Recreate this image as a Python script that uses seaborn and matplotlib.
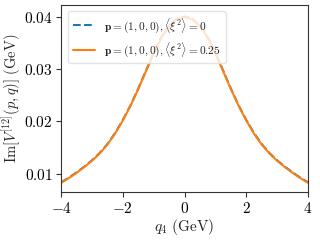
import numpy as np
import pandas as pd
import matplotlib
matplotlib.use("Agg")
import matplotlib.pyplot as plt
import seaborn as sns

# q4 grid (GeV) and read-off values (GeV)
q4 = [-4.0, -3.75, -3.5, -3.25, -3.0, -2.75, -2.5, -2.25, -2.0, -1.75, -1.5, -1.25, -1.0, -0.75, -0.5, -0.25,
      0.0, 0.25, 0.5, 0.75, 1.0, 1.25, 1.5, 1.75, 2.0, 2.25, 2.5, 2.75, 3.0, 3.25, 3.5, 3.75, 4.0]
# values for q4 = 0, 0.25, ..., 4 (curve is symmetric in q4)
half = [0.0400, 0.0396, 0.0383, 0.0361, 0.0331, 0.0297, 0.0263, 0.0231, 0.0203,
        0.0178, 0.0157, 0.0140, 0.0126, 0.0114, 0.0103, 0.0093, 0.0084]
im_v_xi0 = half[::-1] + half[1:]
half2 = [0.0399, 0.0395, 0.0382, 0.0360, 0.0330, 0.0296, 0.0262, 0.0230, 0.0202,
         0.0177, 0.0156, 0.0139, 0.0125, 0.0113, 0.0102, 0.0092, 0.0083]
im_v_xi025 = half2[::-1] + half2[1:]

labels = [r"$\mathbf{p}=(1,0,0), \langle\xi^2\rangle=0$",
          r"$\mathbf{p}=(1,0,0), \langle\xi^2\rangle=0.25$"]

df = pd.DataFrame({
    "q4": q4 * 2,
    "v": im_v_xi0 + im_v_xi025,
    "series": [labels[0]] * len(q4) + [labels[1]] * len(q4),
})

sns.set_style("ticks")
plt.rcParams["mathtext.fontset"] = "cm"
plt.rcParams["font.family"] = ["serif"]
plt.rcParams["font.serif"] = ["cmr10", "DejaVu Serif"]
plt.rcParams["axes.formatter.use_mathtext"] = True
plt.rcParams["axes.unicode_minus"] = True

fig = plt.figure(figsize=(3.2, 2.4), dpi=100)
ax = fig.add_axes([0.191, 0.199, 0.9625 - 0.191, 0.981 - 0.199])

sns.lineplot(data=df, x="q4", y="v", hue="series", style="series",
             hue_order=labels, style_order=labels,
             palette=["#1f77b4", "#ff7f0e"],
             dashes=[(3.7, 1.6), ""], linewidth=1.5, ax=ax)

ax.set_xlim(-4, 4)
ax.set_ylim(0.00651, 0.0423)
ax.set_xticks([-4, -2, 0, 2, 4])
ax.set_yticks([0.01, 0.02, 0.03, 0.04])
ax.set_yticklabels(["$0.01$", "$0.02$", "$0.03$", "$0.04$"])
ax.set_xticklabels(["$-4$", "$-2$", "$0$", "$2$", "$4$"])
ax.tick_params(labelsize=11, length=3.5, width=0.8, colors="#333333", labelcolor="black", pad=2.5)
for s in ax.spines.values():
    s.set_visible(True)
    s.set_color("#333333")
    s.set_linewidth(0.8)

ax.set_xlabel(r"$q_4\ \mathrm{(GeV)}$", fontsize=11, labelpad=1)
ax.set_ylabel(r"$\mathrm{Im}[V^{[12]}(p,q)]\ \mathrm{(GeV)}$", fontsize=10.5, labelpad=1)

leg = ax.legend(loc="upper left", fontsize=8.2, framealpha=0.8, borderaxespad=0.6,
                handlelength=2.0, edgecolor="#dddddd")
leg.set_title(None)

fig.savefig("out.png", dpi=100)
